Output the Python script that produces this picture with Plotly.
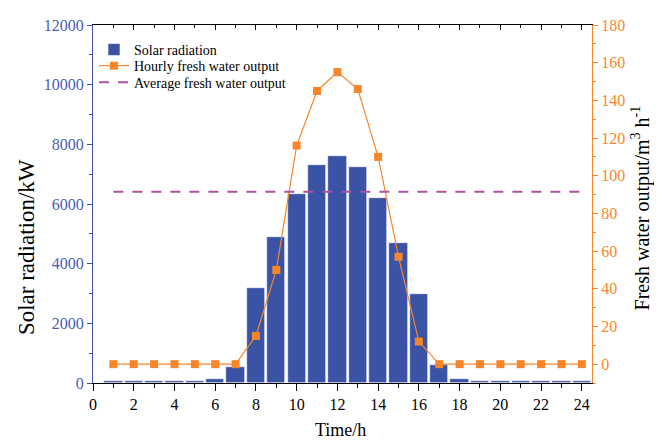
import plotly.graph_objects as go

hours = list(range(1, 25))
solar_radiation = [60, 60, 60, 60, 60, 130, 530, 3180, 4900, 6350, 7300, 7600,
                   7250, 6200, 4680, 2980, 590, 120, 60, 60, 60, 60, 60, 60]
hourly_water = [0, 0, 0, 0, 0, 0, 0, 15, 50, 116, 145, 155,
                146, 110, 57, 12, 0, 0, 0, 0, 0, 0, 0, 0]
average_water = 91.5
avg_x = [1, 24]

BLUE = "#3A53A4"
ORANGE = "#F7862A"
PURPLE = "#B0509F"
FONT = "Liberation Serif"

fig = go.Figure()
fig.add_trace(go.Bar(
    x=hours, y=solar_radiation, name="Solar radiation",
    marker=dict(color=BLUE, line=dict(color="white", width=0.6)),
    width=0.9, yaxis="y", legend="legend"))
fig.add_trace(go.Scatter(
    x=hours, y=hourly_water, name="Hourly fresh water output",
    mode="lines+markers", line=dict(color=ORANGE, width=1.2),
    marker=dict(symbol="square", size=8, color=ORANGE), yaxis="y2",
    legend="legend2"))
fig.add_trace(go.Scatter(
    x=avg_x, y=[average_water] * len(avg_x), name="Average fresh water output",
    mode="lines", line=dict(color=PURPLE, width=2, dash="10px,9px"), yaxis="y2",
    legend="legend3"))
# helper for top mirrored axis
fig.add_trace(go.Scatter(x=[0], y=[0], xaxis="x2", yaxis="y", mode="markers",
                         marker=dict(opacity=0), showlegend=False, hoverinfo="skip"))

leg_common = dict(x=0.002, xanchor="left", yanchor="top",
                  font=dict(family=FONT, size=14, color="black"),
                  bgcolor="rgba(0,0,0,0)", itemwidth=30)

fig.update_layout(
    width=646, height=433,
    margin=dict(l=85, r=62, t=9, b=58),
    paper_bgcolor="white", plot_bgcolor="white",
    font=dict(family=FONT, size=16, color="black"),
    showlegend=True,
    bargap=0,
    legend=dict(y=0.975, **leg_common),
    legend2=dict(y=0.93, **leg_common),
    legend3=dict(y=0.884, **leg_common),
    xaxis=dict(range=[0, 24.5], dtick=2, tick0=0, ticks="outside", ticklen=7,
               tickwidth=1.3, tickcolor="black", showline=True, linecolor="black",
               linewidth=1.3, showgrid=False, zeroline=False,
               tickfont=dict(family=FONT, size=16, color="black"),
               minor=dict(dtick=1, ticks="outside", ticklen=4, tickcolor="black",
                          showgrid=False)),
    xaxis2=dict(range=[0, 24.5], overlaying="x", side="top", dtick=2, tick0=0,
                ticks="inside", ticklen=5, tickwidth=1.3, tickcolor="black",
                showline=True, linecolor="black", linewidth=1.3, showticklabels=False,
                showgrid=False, zeroline=False,
                minor=dict(dtick=1, ticks="inside", ticklen=3, tickcolor="black",
                           showgrid=False)),
    yaxis=dict(range=[0, 12000], dtick=2000, tickformat="d", ticks="outside",
               ticklen=5, tickwidth=1.3, tickcolor=BLUE, showline=True,
               linecolor=BLUE, linewidth=1.3, showgrid=False, zeroline=False,
               tickfont=dict(family=FONT, size=16, color="#4A5DB0"),
               minor=dict(dtick=1000, ticks="outside", ticklen=3, tickcolor=BLUE,
                          showgrid=False)),
    yaxis2=dict(range=[-10, 180], dtick=20, tick0=0, overlaying="y", side="right",
                ticks="outside", ticklen=5, tickwidth=1.3, tickcolor=ORANGE,
                showline=True, linecolor=ORANGE, linewidth=1.3, showgrid=False,
                zeroline=False,
                tickfont=dict(family=FONT, size=16, color=ORANGE),
                minor=dict(dtick=10, ticks="outside", ticklen=3, tickcolor=ORANGE,
                           showgrid=False)),
    annotations=[
        dict(text="Solar radiation/kW", xref="paper", yref="paper",
             x=-0.132, y=0.38, xanchor="center", yanchor="middle", textangle=-90,
             showarrow=False, font=dict(family=FONT, size=23, color="black")),
        dict(text="Fresh water output/m<sup>3</sup> h<sup>-1</sup>", xref="paper",
             yref="paper", x=1.098, y=0.49, xanchor="center", yanchor="middle",
             textangle=-90, showarrow=False,
             font=dict(family=FONT, size=20, color="black")),
        dict(text="Time/h", xref="paper", yref="paper", x=0.495, y=-0.13,
             xanchor="center", yanchor="middle", showarrow=False,
             font=dict(family=FONT, size=18, color="black")),
    ],
)

fig.write_html("out.html")
